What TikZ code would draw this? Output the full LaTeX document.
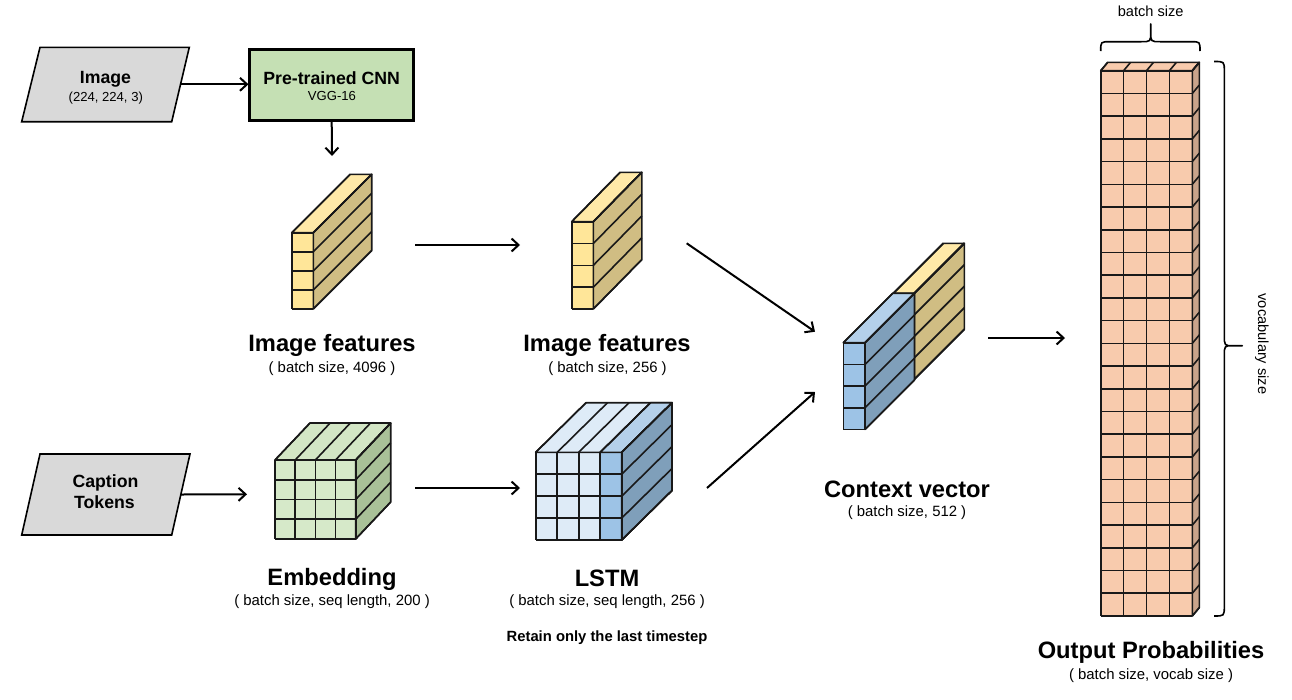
\documentclass[tikz,border=0pt]{standalone}
\usepackage{fontspec}
\setmainfont{Liberation Sans}
\usetikzlibrary{arrows.meta}
\definecolor{grayfill}{HTML}{D9D9D9}
\definecolor{cnnfill}{HTML}{C5E0B4}
\definecolor{yfront}{HTML}{FFE699}
\definecolor{ytop}{HTML}{FFE9A8}
\definecolor{yside}{HTML}{D0BD83}
\definecolor{gfront}{HTML}{D6E9C9}
\definecolor{gtop}{HTML}{D3E6C5}
\definecolor{gside}{HTML}{A9C198}
\definecolor{blfront}{HTML}{DEEBF7}
\definecolor{bltop}{HTML}{DEEBF7}
\definecolor{bdfront}{HTML}{9DC3E6}
\definecolor{bdtop}{HTML}{B4D0EA}
\definecolor{bside}{HTML}{7F9FBA}
\definecolor{ofront}{HTML}{F8CBAD}
\definecolor{otop}{HTML}{F8CBAD}
\definecolor{oside}{HTML}{C9A48B}
\newcommand{\cubecolors}[3]{\def\cfront{#1}\def\ctop{#2}\def\cside{#3}}
% #1 x0, #2 y0 (top-left of front face), #3 w, #4 h, #5 columns, #6 rows, #7 dx, #8 dy (depth)
\newcommand{\cuboid}[8]{%
  \fill[\cfront] (#1,#2) rectangle ({#1+#3},{#2+#4});
  \filldraw[fill=\ctop] (#1,#2) -- ({#1+#3},#2) -- ({#1+#3+#7},{#2-#8}) -- ({#1+#7},{#2-#8}) -- cycle;
  \filldraw[fill=\cside] ({#1+#3},#2) -- ({#1+#3},{#2+#4}) -- ({#1+#3+#7},{#2+#4-#8}) -- ({#1+#3+#7},{#2-#8}) -- cycle;
  \foreach \i in {0,...,#5}{%
    \draw ({#1+\i*#3/#5},#2) -- ({#1+\i*#3/#5},{#2+#4});
    \draw ({#1+\i*#3/#5},#2) -- ({#1+\i*#3/#5+#7},{#2-#8});
  }
  \foreach \j in {0,...,#6}{%
    \draw (#1,{#2+\j*#4/#6}) -- ({#1+#3},{#2+\j*#4/#6});
    \draw ({#1+#3},{#2+\j*#4/#6}) -- ({#1+#3+#7},{#2+\j*#4/#6-#8});
  }
}
\begin{document}
\begin{tikzpicture}[x=1pt,y=-1pt,
  cubeline/.style={line width=1.6pt,line join=round,draw=black!90},
  arr/.style={-{Straight Barb[length=7pt,width=13pt]},line width=2pt},
  heading/.style={inner sep=0pt,font=\fontsize{23.7}{28}\selectfont\bfseries},
  subtext/.style={inner sep=0pt,font=\fontsize{14.9}{18}\selectfont},
  boxbold/.style={inner sep=0pt,font=\fontsize{17.7}{20}\selectfont\bfseries},
  boxsmall/.style={inner sep=0pt,font=\fontsize{13.1}{16}\selectfont},
  smalllabel/.style={inner sep=0pt,font=\fontsize{14.6}{17}\selectfont},
  inputshape/.style={fill=grayfill,draw=black,line width=1.6pt,line join=miter},
  brace/.style={line width=1.6pt,line join=round}]
\useasboundingbox (0,0) rectangle (1292,699);

% ---------- inputs ----------
\filldraw[inputshape] (40,47.3) -- (189.3,47.3) -- (171.7,121.7) -- (21.7,121.7) -- cycle;
\node[minimum width=150pt,minimum height=74pt,inner sep=0pt] (img) at (105.5,84.5) {};
\node[boxbold] (imgt) at (105.5,78.8) {Image};
\node[boxsmall] (imgs) at (105.8,97.7) {(224, 224, 3)};

\filldraw[inputshape] (40,454) -- (190,454) -- (171.7,535) -- (21.7,535) -- cycle;
\node[minimum width=150pt,minimum height=81pt,inner sep=0pt] (cap) at (105.8,494.5) {};
\node[boxbold] (capt) at (105.5,482.8) {Caption};
\node[boxbold] (capt2) at (104.5,502.5) {Tokens};

\node[draw=black,fill=cnnfill,line width=2.5pt,minimum width=164pt,minimum height=71pt,inner sep=0pt] (cnn) at (331.7,85) {};
\node[boxbold] (cnnt) at (331.7,77.8) {Pre-trained CNN};
\node[boxsmall] (cnns) at (332,95.8) {VGG-16};

% ---------- blocks ----------
\begin{scope}[cubeline]
\cubecolors{yfront}{ytop}{yside}
\cuboid{291.7}{232.7}{21.6}{76.3}{1}{4}{58.4}{58.4}
\cuboid{571.7}{221.7}{21.6}{87.3}{1}{4}{48.5}{49.4}
\cubecolors{gfront}{gtop}{gside}
\cuboid{275}{460}{80.7}{79}{4}{4}{35}{37}
\cubecolors{blfront}{bltop}{bside}
\cuboid{535.7}{452.3}{86}{87.7}{4}{4}{50.3}{49.6}
\cubecolors{bdfront}{bdtop}{bside}
\cuboid{600.2}{452.3}{21.5}{87.7}{1}{4}{50.3}{49.6}
\cubecolors{yfront}{ytop}{yside}
\cuboid{893.3}{293.3}{21}{86}{1}{4}{50}{50}
\cubecolors{bdfront}{bdtop}{bside}
\cuboid{843.3}{342.7}{21.7}{86.7}{1}{4}{49.5}{49.5}
\cubecolors{ofront}{otop}{oside}
\cuboid{1100.7}{70.7}{91.6}{545.3}{4}{24}{7}{8.4}
\end{scope}

% ---------- labels ----------
\node[heading] (lif1) at (332,345) {Image features};
\node[subtext] (lif1s) at (332,368.3) {( batch size, 4096 )};
\node[heading] (lif2) at (607,345) {Image features};
\node[subtext] (lif2s) at (607.5,368.3) {( batch size, 256 )};
\node[heading] (lemb) at (332,579.2) {Embedding};
\node[subtext] (lembs) at (332,601.7) {( batch size, seq length, 200 )};
\node[heading] (llstm) at (607,578.5) {LSTM};
\node[subtext] (llstms) at (607,601.7) {( batch size, seq length, 256 )};
\node[inner sep=0pt,font=\fontsize{14.8}{17}\selectfont\bfseries] (lret) at (607,637.5) {Retain only the last timestep};
\node[heading] (lctx) at (907,489) {Context vector};
\node[subtext] (lctxs) at (907,512.5) {( batch size, 512 )};
\node[heading] (lout) at (1151,652.5) {Output Probabilities};
\node[subtext] (louts) at (1151,676) {( batch size, vocab size )};
\node[smalllabel] (lbs) at (1150.7,11.3) {batch size};
\node[smalllabel,rotate=-90] (lvs) at (1262,344) {vocabulary size};

% ---------- braces ----------
\draw[brace] (1100.7,51) .. controls (1100.7,41.7) .. (1110,41.7) -- (1141,41.7)
  .. controls (1150.7,41.7) .. (1150.7,32) -- (1150.7,24) -- (1150.7,32)
  .. controls (1150.7,41.7) .. (1160.4,41.7) -- (1191,41.7) .. controls (1200,41.7) .. (1200,51);
\draw[brace] (1214,61.5) .. controls (1224.3,61.5) .. (1224.3,71) -- (1224.3,335)
  .. controls (1224.3,345.7) .. (1233,345.7) -- (1242.3,345.7) -- (1233,345.7)
  .. controls (1224.3,345.7) .. (1224.3,356) -- (1224.3,606) .. controls (1224.3,616) .. (1214,616);

% ---------- connectors ----------
\coordinate (cnnout) at (332,156);
\coordinate (embin) at (247,494.3);
\coordinate (f1out) at (415,245);
\coordinate (f2in) at (520,245);
\coordinate (embout) at (415,488);
\coordinate (lstmin) at (520,488);
\coordinate (f2out) at (686.7,243.3);
\coordinate (ctxin1) at (815,331.7);
\coordinate (lstmout) at (707,488);
\coordinate (ctxin2) at (815,392);
\coordinate (ctxout) at (988,338);
\coordinate (outin) at (1065,338);

\draw[arr] (img.east |- 0,84.3) -- (cnn.west |- 0,84.3);
\draw[arr] (cnn.south) -- (cnnout);
\draw[arr] (cap.east) -- (embin);
\draw[arr] (f1out) -- (f2in);
\draw[arr] (embout) -- (lstmin);
\draw[arr] (f2out) -- (ctxin1);
\draw[arr] (lstmout) -- (ctxin2);
\draw[arr] (ctxout) -- (outin);
\end{tikzpicture}
\end{document}
